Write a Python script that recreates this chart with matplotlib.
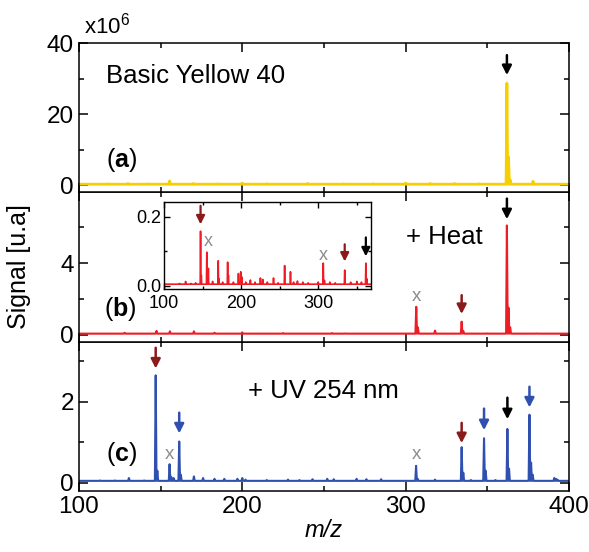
import numpy as np
import matplotlib
matplotlib.use("Agg")
import matplotlib.pyplot as plt
from matplotlib.ticker import MultipleLocator

plt.rcParams['font.family'] = ['Liberation Sans', 'DejaVu Sans']
plt.rcParams['mathtext.fontset'] = 'custom'
plt.rcParams['mathtext.rm'] = 'Liberation Sans'
plt.rcParams['mathtext.bf'] = 'Liberation Sans:bold'
plt.rcParams['mathtext.it'] = 'Liberation Sans:italic'

# peak lists (m/z, signal in 1e6 u.a.)
yellow_mz = [118, 130, 142, 155.5, 170, 185, 200, 215, 240, 262, 280, 300, 315, 330, 345, 362, 363, 364, 378]
yellow_h = [0.4, 0.5, 0.4, 1.2, 0.5, 0.4, 0.6, 0.4, 0.5, 0.4, 0.4, 0.6, 0.5, 0.5, 0.4, 28.7, 8.0, 1.5, 1.1]

heat_mz = [128, 147.5, 155.7, 170.4, 183, 200, 225, 255, 263, 306.5, 307.5, 318, 334.3, 335.3, 350, 362, 363, 364, 380]
heat_h = [0.1, 0.2, 0.18, 0.18, 0.1, 0.12, 0.08, 0.08, 0.06, 1.55, 0.4, 0.22, 0.72, 0.2, 0.06, 6.1, 1.5, 0.4, 0.06]

inset_mz = [112, 120, 128, 135, 141, 147.4, 148.4, 155.5, 157.5, 163, 170.3, 171.3, 176, 182.5, 183.5,
            190, 196.5, 199.5, 201, 206, 212, 218, 225, 228, 234, 242, 248, 256.4, 264, 268, 273, 280,
            287, 300, 306.5, 308, 315, 322, 334.3, 342, 350, 356, 361.7, 363]
inset_h = [0.004, 0.006, 0.012, 0.006, 0.008, 0.158, 0.03, 0.097, 0.05, 0.012, 0.072, 0.02, 0.01, 0.068, 0.03,
           0.01, 0.035, 0.04, 0.025, 0.01, 0.016, 0.01, 0.022, 0.018, 0.01, 0.022, 0.008, 0.058, 0.04, 0.01,
           0.013, 0.01, 0.008, 0.01, 0.065, 0.015, 0.01, 0.008, 0.045, 0.01, 0.012, 0.01, 0.065, 0.02]

uv_mz = [113, 122, 130.6, 140, 147, 148, 155.5, 156.5, 158, 161.4, 162.4, 170.4, 176, 183, 189, 197, 200,
         202, 215, 228, 235, 243, 252, 256, 270, 276, 285, 306.4, 307.4, 318, 334.3, 335.3, 340, 348, 349,
         355, 362.3, 363.3, 375.8, 376.8, 377.8, 391, 392, 393]
uv_h = [0.06, 0.06, 0.12, 0.06, 2.65, 0.3, 0.46, 0.15, 0.12, 1.02, 0.2, 0.16, 0.12, 0.1, 0.1, 0.1, 0.12,
        0.08, 0.07, 0.08, 0.07, 0.09, 0.1, 0.09, 0.1, 0.09, 0.09, 0.42, 0.1, 0.08, 0.88, 0.25, 0.07, 1.1, 0.3,
        0.07, 1.33, 0.35, 1.68, 0.5, 0.2, 0.12, 0.1, 0.08]

# arrows: (m/z, tail, tip, colour)
arrows_a = [(362, 36.6, 31.0, 'black')]
arrows_b = [(334.3, 2.2, 1.15, 'darkred'), (362, 7.6, 6.45, 'black')]
arrows_inset = [(147.4, 0.232, 0.178, 'darkred'), (334.3, 0.12, 0.07, 'darkred'), (361.7, 0.14, 0.085, 'black')]
arrows_c = [(147, 3.33, 2.82, 'darkred'), (161.4, 1.73, 1.22, 'blue'), (334.3, 1.48, 0.98, 'darkred'),
            (348, 1.83, 1.3, 'blue'), (362.3, 2.1, 1.57, 'black'), (375.8, 2.37, 1.86, 'blue')]
crosses_b = [(306.5, 2.15)]
crosses_inset = [(157, 0.127), (306.5, 0.088)]
crosses_c = [(155.5, 0.69), (306.4, 0.69)]

cols = {'black': 'black', 'darkred': '#8B1A1A', 'blue': '#3050B0'}


def profile(mz, h, base, lo=100, hi=400, half=0.5):
    xs, ys = [lo], [base]
    for m, v in sorted(zip(mz, h)):
        xs += [m - half, m, m + half]
        ys += [base, v, base]
    xs.append(hi)
    ys.append(base)
    return xs, ys


def style(ax, major, minor):
    ax.set_xlim(100, 400)
    ax.xaxis.set_major_locator(MultipleLocator(100))
    ax.xaxis.set_minor_locator(MultipleLocator(50))
    ax.yaxis.set_major_locator(MultipleLocator(major))
    ax.yaxis.set_minor_locator(MultipleLocator(minor))
    ax.tick_params(which='both', direction='in', top=True, right=True, width=1.1, labelsize=17.5)
    ax.tick_params(which='major', length=6.5)
    ax.tick_params(which='minor', length=3.5)
    for s in ax.spines.values():
        s.set_linewidth(1.1)


def draw_arrows(ax, arrows, lw=1.8, hl=0.55, hw=0.28):
    for m, tail, tip, c in arrows:
        ax.annotate('', xy=(m, tip), xytext=(m, tail),
                    arrowprops=dict(arrowstyle='-|>,head_length=%s,head_width=%s' % (hl, hw),
                                    color=cols[c], lw=lw, shrinkA=0, shrinkB=0))


fig = plt.figure(figsize=(5.89, 5.52), dpi=100)
L, W, H = 0.134, 0.832, 0.2705
B0 = 1 - 491 / 552
ax_c = fig.add_axes([L, B0, W, H])
ax_b = fig.add_axes([L, B0 + H, W, H])
ax_a = fig.add_axes([L, B0 + 2 * H, W, H])

# (a)
x, y = profile(yellow_mz, yellow_h, 0.3)
ax_a.plot(x, y, color='#F5CF00', lw=2.0)
style(ax_a, 20, 10)
ax_a.set_ylim(-2, 40)
ax_a.set_xticklabels([])
draw_arrows(ax_a, arrows_a)
ax_a.text(0.055, 0.78, 'Basic Yellow 40', transform=ax_a.transAxes, fontsize=18.5, va='center')
ax_a.text(0.055, 0.22, r'($\mathbf{a}$)', transform=ax_a.transAxes, fontsize=18, va='center')
ax_a.text(0.01, 1.12, r'x10$^6$', transform=ax_a.transAxes, fontsize=16, va='center')

# (b)
x, y = profile(heat_mz, heat_h, 0.05)
ax_b.plot(x, y, color='#EE1C25', lw=1.5)
style(ax_b, 4, 2)
ax_b.set_ylim(-0.4, 7.95)
ax_b.set_xticklabels([])
draw_arrows(ax_b, arrows_b)
for m, yy in crosses_b:
    ax_b.text(m, yy, 'x', color='#8C8C8C', fontsize=13.5, ha='center', va='center')
ax_b.text(0.668, 0.7, '+ Heat', transform=ax_b.transAxes, fontsize=18.5, va='center')
ax_b.text(0.052, 0.22, r'($\mathbf{b}$)', transform=ax_b.transAxes, fontsize=18, va='center')

# inset
ax_i = fig.add_axes([164 / 589, 1 - 289 / 552, (370.7 - 164) / 589, 87 / 552])
x, y = profile(inset_mz, inset_h, 0.004, lo=100, hi=368)
ax_i.plot(x, y, color='#EE1C25', lw=1.2)
ax_i.set_xlim(100, 368)
ax_i.set_ylim(-0.01, 0.243)
ax_i.xaxis.set_major_locator(MultipleLocator(100))
ax_i.xaxis.set_minor_locator(MultipleLocator(50))
ax_i.yaxis.set_major_locator(MultipleLocator(0.2))
ax_i.yaxis.set_minor_locator(MultipleLocator(0.1))
ax_i.yaxis.set_major_formatter(matplotlib.ticker.FormatStrFormatter('%.1f'))
ax_i.tick_params(which='both', direction='in', top=True, right=True, width=1.0, labelsize=13)
ax_i.tick_params(axis='y', pad=2)
ax_i.tick_params(axis='x', pad=4)
ax_i.tick_params(which='major', length=4.5)
ax_i.tick_params(which='minor', length=2.5)
for s in ax_i.spines.values():
    s.set_linewidth(1.0)
draw_arrows(ax_i, arrows_inset, lw=1.6, hl=0.5, hw=0.25)
for m, yy in crosses_inset:
    ax_i.text(m, yy, 'x', color='#8C8C8C', fontsize=13, ha='center', va='center')

# (c)
x, y = profile(uv_mz, uv_h, 0.05)
ax_c.plot(x, y, color='#3050B0', lw=1.5)
style(ax_c, 2, 1)
ax_c.set_ylim(-0.2, 3.48)
draw_arrows(ax_c, arrows_c)
for m, yy in crosses_c:
    ax_c.text(m, yy, 'x', color='#8C8C8C', fontsize=13.5, ha='center', va='center')
ax_c.text(0.345, 0.67, '+ UV 254 nm', transform=ax_c.transAxes, fontsize=18.5, va='center')
ax_c.text(0.055, 0.25, r'($\mathbf{c}$)', transform=ax_c.transAxes, fontsize=18, va='center')
ax_c.set_xlabel('m/z', fontsize=17, fontstyle='italic', labelpad=1)

fig.text(0.032, 1 - 267 / 552, 'Signal [u.a]', rotation=90, fontsize=18, va='center', ha='center')

fig.savefig('out.png', dpi=100)
